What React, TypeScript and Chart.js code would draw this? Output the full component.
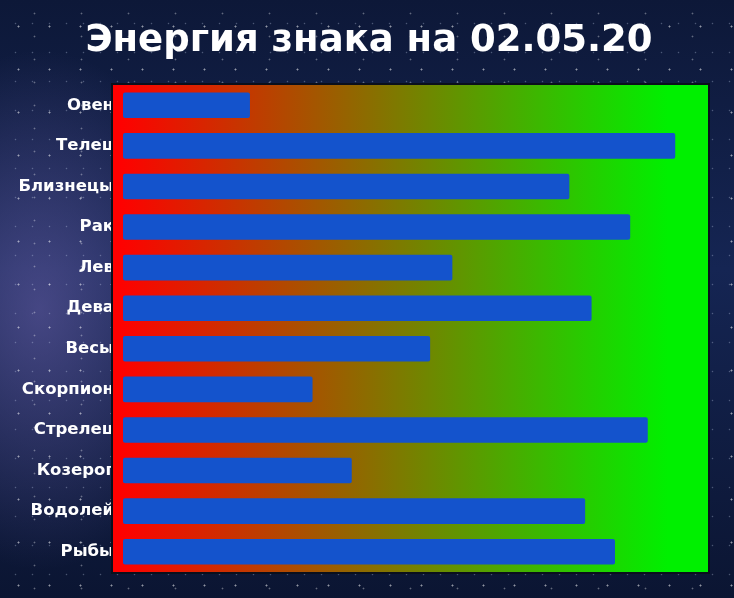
import React, { useEffect, useRef } from "react";
import { Chart, registerables } from "chart.js";

Chart.register(...registerables);

const signs = [
  "Овен",
  "Телец",
  "Близнецы",
  "Рак",
  "Лев",
  "Дева",
  "Весы",
  "Скорпион",
  "Стрелец",
  "Козерог",
  "Водолей",
  "Рыбы",
];

const energy = [21.7, 94.4, 76.3, 86.7, 56.3, 80.1, 52.5, 32.4, 89.7, 39.1, 79.0, 84.1];

const chartTitle = "Энергия знака на 02.05.20";

// red -> green background behind the bars, a bit wider than the bar area
const gradientBackground = {
  id: "gradientBackground",
  beforeDatasetsDraw(chart: Chart) {
    const { ctx, chartArea } = chart;
    const left = chartArea.left - 10;
    const top = chartArea.top;
    const w = chartArea.right - left;
    const h = chartArea.bottom - chartArea.top;
    const g = ctx.createLinearGradient(left + 6, 0, chartArea.right - 40, 0);
    g.addColorStop(0, "#ff0000");
    g.addColorStop(1, "#00f000");
    ctx.save();
    ctx.fillStyle = g;
    ctx.fillRect(left, top, w, h);
    ctx.strokeStyle = "#0a0f1c";
    ctx.lineWidth = 2;
    ctx.strokeRect(left - 1, top - 1, w + 2, h + 2);
    ctx.restore();
  },
};

const EnergyChart: React.FC = () => {
  const chartRef = useRef<HTMLCanvasElement>(null);
  const chartInstance = useRef<Chart | null>(null);

  useEffect(() => {
    if (!chartRef.current) return;
    if (chartInstance.current) chartInstance.current.destroy();
    const ctx = chartRef.current.getContext("2d");
    if (!ctx) return;

    chartInstance.current = new Chart(ctx, {
      type: "bar",
      data: {
        labels: signs,
        datasets: [
          {
            data: energy,
            backgroundColor: "#1453cc",
            borderRadius: 2,
            borderSkipped: false,
            barPercentage: 0.63,
            categoryPercentage: 1,
          },
        ],
      },
      plugins: [gradientBackground],
      options: {
        indexAxis: "y",
        animation: false,
        responsive: true,
        maintainAspectRatio: false,
        layout: { padding: { top: 85, right: 26, bottom: 26, left: 0 } },
        scales: {
          x: { display: false, min: 0, max: 100 },
          y: {
            grid: { display: false, drawTicks: false },
            border: { display: false },
            afterFit: (axis: any) => {
              axis.width = 123;
            },
            ticks: {
              color: "#ffffff",
              padding: 9,
              font: { family: "'DejaVu Sans', sans-serif", weight: "bold", size: 16.5 },
            },
          },
        },
        plugins: {
          legend: { display: false },
          tooltip: { enabled: false },
        },
      },
    });

    return () => {
      if (chartInstance.current) {
        chartInstance.current.destroy();
        chartInstance.current = null;
      }
    };
  }, []);

  return (
    <div style={{ position: "relative", width: 734, height: 598 }}>
      <canvas ref={chartRef} />
      <div
        style={{
          position: "absolute",
          left: 2,
          top: 14,
          width: 734,
          textAlign: "center",
          color: "#ffffff",
          fontFamily: "'DejaVu Sans', sans-serif",
          fontWeight: "bold",
          fontSize: 37,
          lineHeight: "50px",
        }}
      >
        {chartTitle}
      </div>
    </div>
  );
};

export default function App() {
  return (
    <div
      style={{
        position: "fixed",
        left: 0,
        top: 0,
        width: 734,
        height: 598,
        backgroundColor: "#0c1733",
        backgroundImage: [
          "radial-gradient(circle, rgba(255,255,255,0.55) 0.7px, transparent 1.3px)",
          "radial-gradient(circle, rgba(255,255,255,0.35) 0.6px, transparent 1.2px)",
          "radial-gradient(circle, rgba(220,230,255,0.3) 0.5px, transparent 1.1px)",
          "radial-gradient(ellipse 170px 260px at 40px 310px, rgba(110,100,175,0.55), transparent)",
          "linear-gradient(180deg, #0d1838 0%, #152553 45%, #0b1532 100%)",
        ].join(","),
        backgroundSize: "31px 43px, 47px 23px, 17px 29px, 100% 100%, 100% 100%",
        backgroundPosition: "3px 5px, 11px 2px, 7px 9px, 0 0, 0 0",
      }}
    >
      <EnergyChart />
    </div>
  );
}
